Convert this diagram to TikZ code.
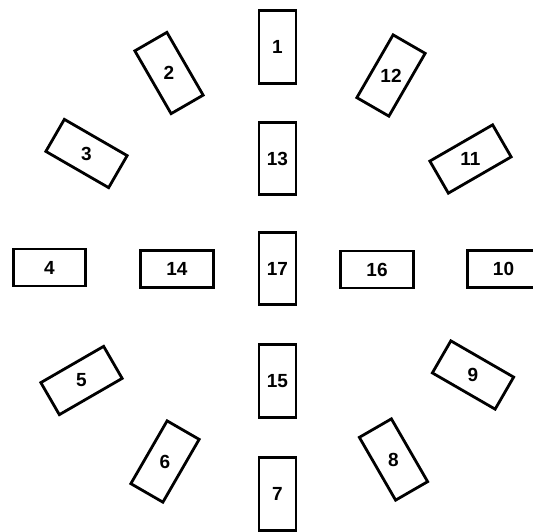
\documentclass[tikz,border=0pt]{standalone}
\usepackage{fontspec}
\setmainfont{Liberation Sans}
\begin{document}
\begin{tikzpicture}[x=1pt,y=-1pt,
  box/.style={draw=black,line width=2.8pt,rectangle,minimum width=37pt,minimum height=72.5pt,inner sep=0pt},
  lbl/.style={font=\fontsize{19}{19}\selectfont\bfseries,inner sep=0pt}]
\useasboundingbox (0,0) rectangle (533,531);
\foreach \n/\x/\y/\r in {1/277.5/47/0, 2/169/73/30, 3/86.5/153.5/60, 4/49.5/267.5/90,
  5/81.5/380.5/120, 6/165/461.5/150, 7/277.5/494/0, 8/393.5/459.5/210,
  9/473/375/240, 10/503.5/269/90, 11/470.5/159/300, 12/391/75.5/330,
  13/277.5/158.5/0, 14/177/269/90, 15/277.5/381/0, 16/377/269.5/90, 17/277.5/268.5/0}{
  \node[box,rotate=\r] (b\n) at (\x,\y) {};
  \node[lbl] (t\n) at (b\n.center) {\n};
}
\end{tikzpicture}
\end{document}
